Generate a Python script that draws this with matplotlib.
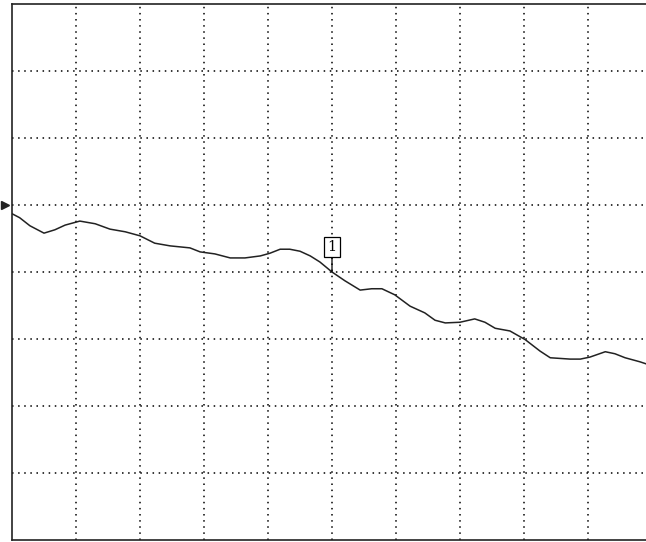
import numpy as np
import matplotlib
matplotlib.use("Agg")
import matplotlib.pyplot as plt

# trace, in screen divisions (10 across, 8 high)
x_div = [0.00, 0.12, 0.28, 0.50, 0.67, 0.83, 1.06, 1.30, 1.53, 1.77,
         2.00, 2.23, 2.47, 2.78, 2.94, 3.17, 3.41, 3.64, 3.88, 4.03,
         4.19, 4.34, 4.50, 4.66, 4.81, 5.00, 5.20, 5.44, 5.62, 5.78,
         5.98, 6.22, 6.45, 6.61, 6.77, 7.00, 7.23, 7.39, 7.55, 7.78,
         8.02, 8.25, 8.41, 8.72, 8.88, 9.03, 9.27, 9.42, 9.58, 9.81, 10.00]
y_div = [4.87, 4.81, 4.69, 4.58, 4.63, 4.70, 4.76, 4.72, 4.64, 4.60,
         4.54, 4.43, 4.39, 4.36, 4.30, 4.27, 4.21, 4.21, 4.24, 4.28,
         4.34, 4.34, 4.31, 4.24, 4.15, 4.00, 3.87, 3.73, 3.75, 3.75,
         3.66, 3.49, 3.39, 3.28, 3.24, 3.25, 3.30, 3.25, 3.16, 3.12,
         2.99, 2.82, 2.72, 2.70, 2.70, 2.73, 2.81, 2.78, 2.72, 2.66, 2.60]

marker_x = 5.0
marker_y = 4.0
marker_label = "1"
ref_level = 5.0

fig = plt.figure(figsize=(6.46, 5.42), dpi=100)
ax = fig.add_axes([12/646, 2/542, 640/646, 536/542])
ax.set_xlim(0, 10)
ax.set_ylim(0, 8)

# dotted graticule
for gx in range(1, 10):
    ax.axvline(gx, color="black", lw=1.1, ls=(0, (1, 3)))
for gy in range(1, 8):
    ax.axhline(gy, color="black", lw=1.1, ls=(0, (1, 3)))

ax.plot(x_div, y_div, color="#222222", lw=1.1)

# marker 1
ax.annotate(marker_label, xy=(marker_x, marker_y), xytext=(0, 18),
            textcoords="offset points", ha="center", va="center",
            fontsize=10.5, family="DejaVu Serif",
            bbox=dict(boxstyle="square,pad=0.22", fc="white", ec="black", lw=0.9),
            arrowprops=dict(arrowstyle="-", color="black", lw=0.9,
                            shrinkA=0, shrinkB=0))

# reference level arrow
ax.plot([-0.11], [ref_level], marker=">", color="#222222", ms=6, clip_on=False)

ax.set_xticks([])
ax.set_yticks([])
for s in ax.spines.values():
    s.set_linewidth(1.2)
    s.set_color("#222222")

fig.savefig("out.png", dpi=100)
